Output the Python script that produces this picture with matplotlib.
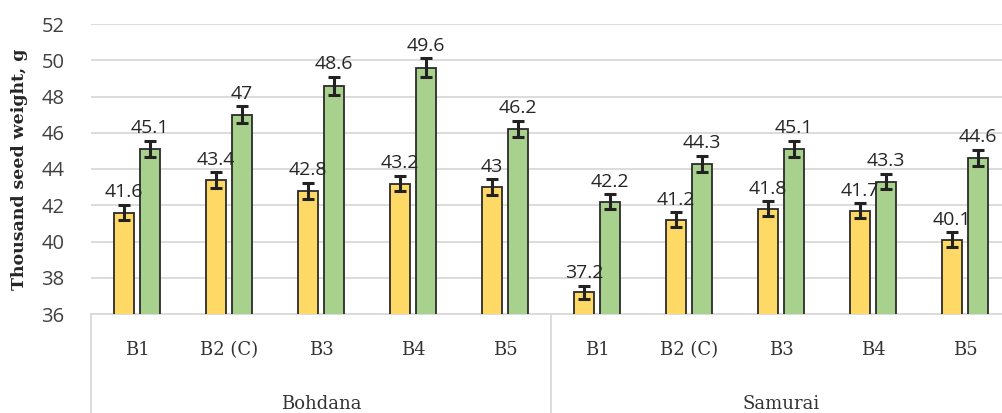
import numpy as np
import matplotlib.pyplot as plt
from matplotlib.transforms import blended_transform_factory

cultivars = ['Bohdana', 'Samurai']
treatments = ['B1', 'B2 (C)', 'B3', 'B4', 'B5']

yellow_vals = [41.6, 43.4, 42.8, 43.2, 43.0, 37.2, 41.2, 41.8, 41.7, 40.1]
green_vals = [45.1, 47.0, 48.6, 49.6, 46.2, 42.2, 44.3, 45.1, 43.3, 44.6]
yellow_err = [0.42, 0.43, 0.43, 0.43, 0.43, 0.37, 0.41, 0.42, 0.42, 0.40]
green_err = [0.45, 0.47, 0.49, 0.50, 0.46, 0.42, 0.44, 0.45, 0.43, 0.45]

num_font = 'Open Sans'
cat_font = 'DejaVu Serif'

fig = plt.figure(figsize=(10.02, 4.13), dpi=100)
ax = fig.add_axes([91 / 1002, 1 - 314 / 413, 920 / 1002, 290 / 413])

x = np.arange(len(yellow_vals))
w = 0.22
off = 0.14
ekw = dict(ecolor='#222222', elinewidth=2.2, capsize=4.5, capthick=2.2)
ax.bar(x - off, yellow_vals, w, color='#FFD966', edgecolor='#2b2b2b', linewidth=1.3,
       yerr=yellow_err, error_kw=ekw, zorder=3)
ax.bar(x + off, green_vals, w, color='#A9D18E', edgecolor='#2b2b2b', linewidth=1.3,
       yerr=green_err, error_kw=ekw, zorder=3)

for xs, vals, errs in [(x - off, yellow_vals, yellow_err), (x + off, green_vals, green_err)]:
    for xi, v, e in zip(xs, vals, errs):
        ax.annotate('%g' % v, (xi, v + e), xytext=(0, 2.5), textcoords='offset points',
                    ha='center', va='bottom', fontsize=14, family=num_font,
                    color='#262626', zorder=4)

ax.set_ylim(36, 52)
ax.set_yticks(np.arange(36, 53, 2))
ax.set_xlim(-0.5, 9.5)
ax.set_xticks([])
ax.yaxis.grid(True, color='#d9d9d9', linewidth=1.3)
ax.set_axisbelow(True)
for s in ['top', 'right', 'left']:
    ax.spines[s].set_visible(False)
ax.spines['bottom'].set_color('#d9d9d9')
ax.spines['bottom'].set_linewidth(1.3)
ax.tick_params(axis='y', length=0, pad=19, labelsize=14.5, labelcolor='#404040')
for lab in ax.get_yticklabels():
    lab.set_family(num_font)

# two-level category axis
trans = blended_transform_factory(ax.transData, ax.transAxes)
for i in range(len(yellow_vals)):
    ax.text(x[i], -0.124, treatments[i % 5], transform=trans, ha='center', va='center',
            fontsize=13, family=cat_font, color='#333333')
for g, name in enumerate(cultivars):
    ax.text(g * 5 + 2, -0.31, name, transform=trans, ha='center', va='center',
            fontsize=13, family=cat_font, color='#333333')
for xv in [-0.5, 4.5]:
    ax.plot([xv, xv], [0, -0.36], transform=trans, color='#d9d9d9', linewidth=1.3,
            clip_on=False)

fig.text(20 / 1002, 1 - 169 / 413, 'Thousand seed weight, g', rotation=90, ha='center',
         va='center', fontsize=12.5, fontweight='bold', family=cat_font, color='#262626')

fig.savefig('out.png', dpi=100)
